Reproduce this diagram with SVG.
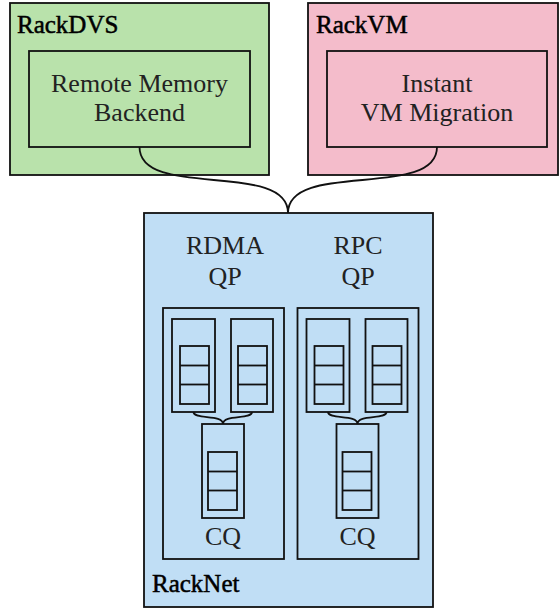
<svg xmlns="http://www.w3.org/2000/svg" width="559" height="609" viewBox="0 0 559 609">
<style>
.box{stroke:#111;stroke-width:1.8}
.ln{fill:none;stroke:#111;stroke-width:1.8}
.t{font-family:"Liberation Serif","Times New Roman",serif;font-size:26px;fill:#222}
.ttl{font-family:"Liberation Serif","Times New Roman",serif;font-size:25px;fill:#000;stroke:#000;stroke-width:0.5}
.c{text-anchor:middle}
</style>
<defs>
<g id="stack">
<rect class="box" fill="none" x="0" y="0" width="29" height="58"/>
<line class="ln" x1="0" y1="19.5" x2="29" y2="19.5"/>
<line class="ln" x1="0" y1="38.5" x2="29" y2="38.5"/>
</g>
<g id="qgroup">
<rect class="box" fill="none" x="163" y="308" width="121" height="251"/>
<rect class="box" fill="none" x="172" y="319" width="43" height="93"/>
<use href="#stack" x="180" y="346"/>
<rect class="box" fill="none" x="231" y="319" width="42" height="93"/>
<use href="#stack" x="238" y="346"/>
<path class="ln" d="M193.5,412 C193.5,420 223,414 223,424 M252,412 C252,420 223,414 223,424"/>
<rect class="box" fill="none" x="202" y="424" width="42" height="94"/>
<use href="#stack" x="208" y="452"/>
<text class="t c" x="223" y="545">CQ</text>
</g>
</defs>
<g id="rackdvs">
<rect class="box" fill="#b9e2ab" x="10" y="3" width="259" height="172"/>
<text class="ttl" x="17" y="33">RackDVS</text>
<g id="remote-memory-backend">
<rect class="box" fill="#b9e2ab" x="29" y="51" width="221" height="96"/>
<text class="t c" x="139.5" y="92">Remote Memory</text>
<text class="t c" x="139.5" y="121">Backend</text>
</g>
</g>
<g id="rackvm">
<rect class="box" fill="#f4bccb" x="308" y="3" width="250" height="172"/>
<text class="ttl" x="316" y="33">RackVM</text>
<g id="instant-vm-migration">
<rect class="box" fill="#f4bccb" x="327" y="51" width="220" height="96"/>
<text class="t c" x="437" y="92">Instant</text>
<text class="t c" x="437" y="121">VM Migration</text>
</g>
</g>
<g id="racknet">
<rect class="box" fill="#c0def5" x="144" y="213" width="289" height="394"/>
<text class="ttl" x="152" y="592">RackNet</text>
<g id="rdma-qp">
<text class="t c" x="225" y="254">RDMA</text>
<text class="t c" x="225" y="285">QP</text>
<use href="#qgroup"/>
</g>
<g id="rpc-qp">
<text class="t c" x="358" y="254">RPC</text>
<text class="t c" x="358" y="285">QP</text>
<use href="#qgroup" x="134.5"/>
</g>
</g>
<g id="connectors">
<path class="ln" d="M139.5,147 C139.5,200 288,160 288,213"/>
<path class="ln" d="M437,147 C437,200 288,160 288,213"/>
</g>
</svg>
